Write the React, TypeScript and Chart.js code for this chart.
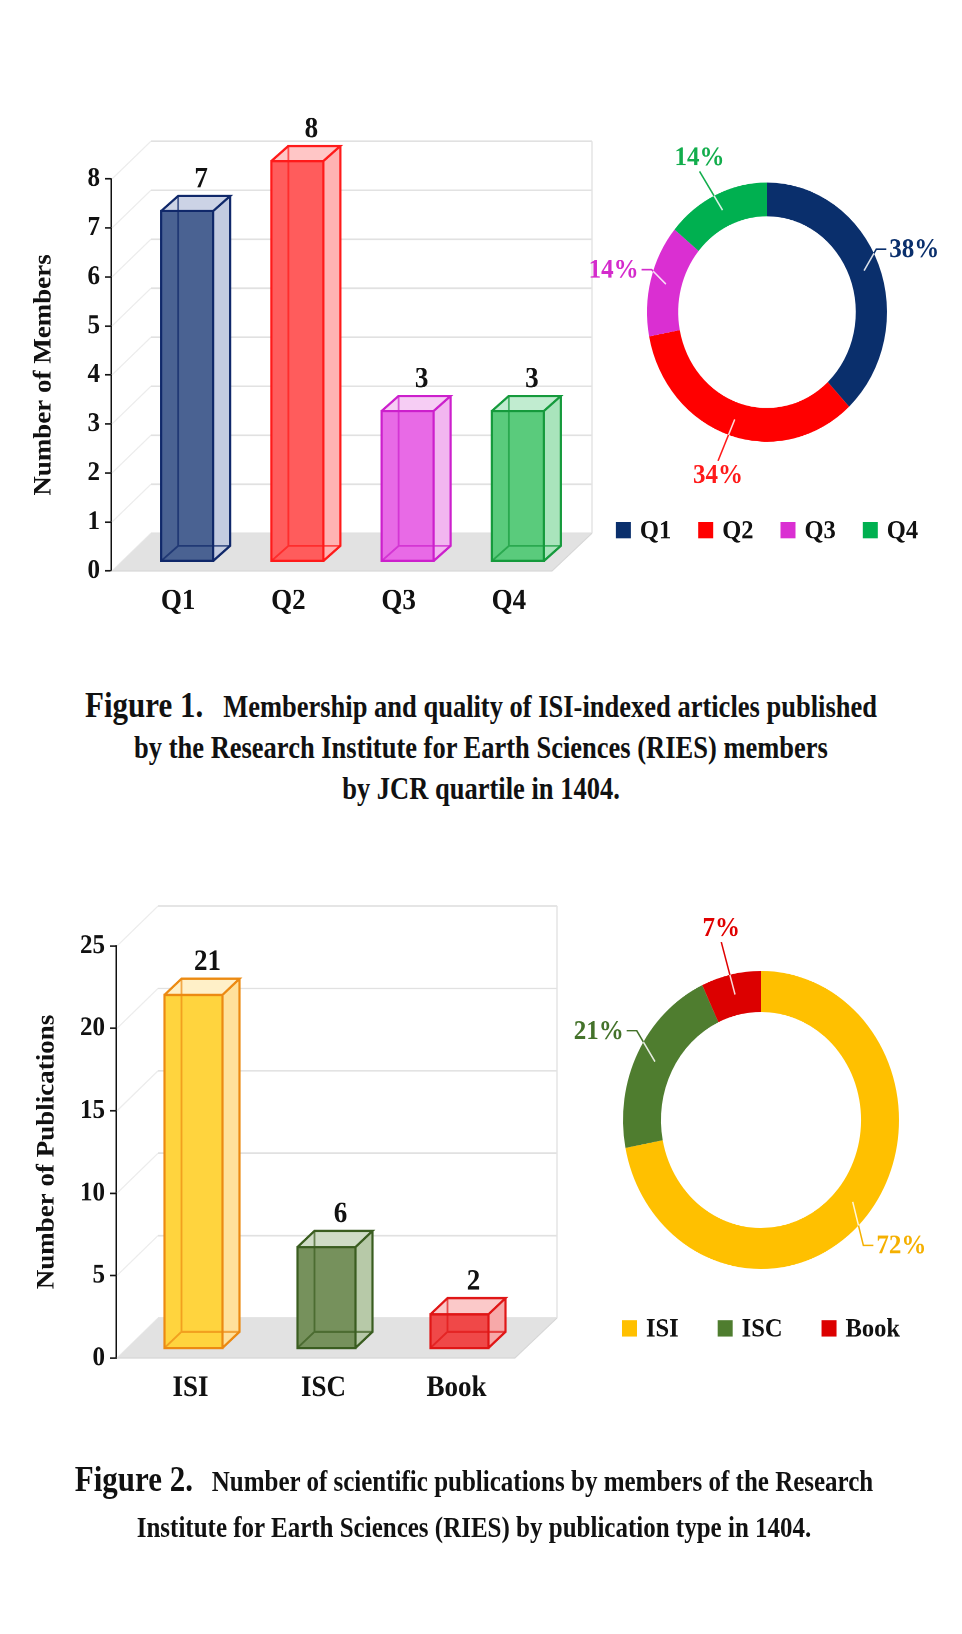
import React, { useEffect, useRef } from "react";
import { Chart, registerables } from "chart.js";

Chart.register(...registerables);

const FONT = '"Liberation Serif", "Times New Roman", serif';
const STRETCH = 1.08;
const BASE_H = 1512;

// ---------- Figure 1 data ----------
const quartiles = ["Q1", "Q2", "Q3", "Q4"];
const memberCounts = [7, 8, 3, 3];
const memberTicks = [0, 1, 2, 3, 4, 5, 6, 7, 8];
const quartileShare = [38, 34, 14, 14];

// ---------- Figure 2 data ----------
const pubTypes = ["ISI", "ISC", "Book"];
const pubCounts = [21, 6, 2];
const pubTicks = [0, 5, 10, 15, 20, 25];
const pubShare = [72, 21, 7];

// ---------- Styles ----------
const quartileFront = ["#4a6292", "#ff5c5c", "#e86ae6", "#5acb7c"];
const quartileSide = ["#c3cbe0", "#ffb3b3", "#f2b6f0", "#a9e4bc"];
const quartileTop = ["#ccd3e6", "#ffc6c6", "#f6cdf4", "#c1ecd0"];
const quartileEdge = ["#10286a", "#ff1a1a", "#cc1fcc", "#159a3c"];
const quartileRing = ["#0a2f6c", "#ff0000", "#da2fd2", "#00b050"];
const quartileLabel = ["#0a2f6c", "#ff1a1a", "#d42bcc", "#12ad4c"];

const pubFront = ["#ffd43e", "#76915c", "#f04848"];
const pubSide = ["#ffe19b", "#b7c9a8", "#f7a9a9"];
const pubTop = ["#fff0c8", "#cfdcc6", "#fbc9c9"];
const pubEdge = ["#ec8a12", "#3a5d20", "#e01616"];
const pubRing = ["#ffc000", "#4f7d2f", "#dc0000"];
const pubLabel = ["#f5b000", "#44722a", "#e00000"];

type Bar3DStyle = {
  wall: [number, number];
  depth: [number, number];
  shift: [number, number];
  barWidth: number;
  heightScale: number;
  front: string[];
  side: string[];
  top: string[];
  edge: string[];
  labelDx: number;
};

function makeBar3D(st: Bar3DStyle) {
  return {
    id: "bar3d",
    beforeDatasetsDraw(chart: any) {
      const { ctx, chartArea: ca, scales } = chart;
      const y = scales.y;
      const [wdx, wdy] = st.wall;
      const y0 = y.getPixelForValue(y.min);
      const yTop = y.getPixelForValue(y.max);
      ctx.save();
      ctx.lineCap = "butt";
      y.ticks.forEach((t: any) => {
        const py = y.getPixelForValue(t.value);
        ctx.strokeStyle = "#ececec";
        ctx.lineWidth = 1.2;
        ctx.beginPath();
        ctx.moveTo(ca.left + 1, py);
        ctx.lineTo(ca.left + wdx, py + wdy);
        ctx.stroke();
        ctx.strokeStyle = "#e1e1e1";
        ctx.lineWidth = 1.5;
        ctx.beginPath();
        ctx.moveTo(ca.left + wdx, py + wdy);
        ctx.lineTo(ca.right + wdx, py + wdy);
        ctx.stroke();
      });
      ctx.strokeStyle = "#e4e4e4";
      ctx.lineWidth = 1.5;
      ctx.beginPath();
      ctx.moveTo(ca.right + wdx, y0 + wdy);
      ctx.lineTo(ca.right + wdx, yTop + wdy);
      ctx.stroke();
      // floor
      ctx.fillStyle = "#e2e2e2";
      ctx.beginPath();
      ctx.moveTo(ca.left + 1, y0);
      ctx.lineTo(ca.right, y0);
      ctx.lineTo(ca.right + wdx, y0 + wdy);
      ctx.lineTo(ca.left + wdx, y0 + wdy);
      ctx.closePath();
      ctx.fill();
      ctx.strokeStyle = "#d6d6d6";
      ctx.lineWidth = 1;
      ctx.beginPath();
      ctx.moveTo(ca.left + 1, y0);
      ctx.lineTo(ca.right, y0);
      ctx.lineTo(ca.right + wdx, y0 + wdy);
      ctx.stroke();
      ctx.restore();
    },
    afterDatasetsDraw(chart: any) {
      const { ctx, scales } = chart;
      const y = scales.y;
      const meta = chart.getDatasetMeta(0);
      const values = chart.data.datasets[0].data as number[];
      const y0 = y.getPixelForValue(0);
      const [dx, dy] = st.depth;
      ctx.save();
      ctx.lineJoin = "miter";
      meta.data.forEach((el: any, i: number) => {
        const v = values[i];
        const cx = el.x + st.shift[0];
        const yb = y0 + st.shift[1];
        const h = (y0 - y.getPixelForValue(v)) * st.heightScale;
        const yt = yb - h;
        const xl = cx - st.barWidth / 2;
        const xr = cx + st.barWidth / 2;
        // side face
        ctx.fillStyle = st.side[i];
        ctx.beginPath();
        ctx.moveTo(xr, yt);
        ctx.lineTo(xr + dx, yt + dy);
        ctx.lineTo(xr + dx, yb + dy);
        ctx.lineTo(xr, yb);
        ctx.closePath();
        ctx.fill();
        // top face
        ctx.fillStyle = st.top[i];
        ctx.beginPath();
        ctx.moveTo(xl, yt);
        ctx.lineTo(xr, yt);
        ctx.lineTo(xr + dx, yt + dy);
        ctx.lineTo(xl + dx, yt + dy);
        ctx.closePath();
        ctx.fill();
        // front face
        ctx.fillStyle = st.front[i];
        ctx.fillRect(xl, yt, xr - xl, yb - yt);
        // hidden edges
        ctx.strokeStyle = st.edge[i];
        ctx.lineWidth = 1.8;
        ctx.globalAlpha = 0.7;
        ctx.beginPath();
        ctx.moveTo(xl + dx, yt + dy);
        ctx.lineTo(xl + dx, yb + dy);
        ctx.lineTo(xr + dx, yb + dy);
        ctx.moveTo(xl, yb);
        ctx.lineTo(xl + dx, yb + dy);
        ctx.stroke();
        ctx.globalAlpha = 1;
        ctx.lineWidth = 2.2;
        ctx.beginPath();
        ctx.rect(xl, yt, xr - xl, yb - yt);
        ctx.moveTo(xl, yt);
        ctx.lineTo(xl + dx, yt + dy);
        ctx.lineTo(xr + dx, yt + dy);
        ctx.lineTo(xr, yt);
        ctx.moveTo(xr + dx, yt + dy);
        ctx.lineTo(xr + dx, yb + dy);
        ctx.lineTo(xr, yb);
        ctx.stroke();
        // value label
        ctx.fillStyle = "#111";
        ctx.font = `bold 27px ${FONT}`;
        ctx.textAlign = "center";
        ctx.textBaseline = "alphabetic";
        ctx.fillText(String(v), cx + st.labelDx, yt + dy - 8);
      });
      ctx.restore();
    },
  };
}

type DonutStyle = {
  labelColors: string[];
  labelRadius: number;
  legendOffset: number;
  legendGap: number;
};

function makeDonutLabels(st: DonutStyle) {
  return {
    id: "donutLabels",
    afterDatasetsDraw(chart: any) {
      const { ctx } = chart;
      const meta = chart.getDatasetMeta(0);
      const ds = chart.data.datasets[0];
      const values = ds.data as number[];
      const colors = ds.backgroundColor as string[];
      const labels = chart.data.labels as string[];
      ctx.save();
      ctx.font = `bold 25px ${FONT}`;
      let cxAll = 0;
      meta.data.forEach((arc: any, i: number) => {
        const p = arc.getProps(["x", "y", "startAngle", "endAngle", "innerRadius", "outerRadius"], true);
        cxAll = p.x;
        const mid = (p.startAngle + p.endAngle) / 2;
        const c = Math.cos(mid);
        const s = Math.sin(mid);
        const rMid = (p.innerRadius + p.outerRadius) / 2;
        const ax = p.x + c * rMid;
        const ay = p.y + s * rMid;
        const lx = p.x + c * p.outerRadius * st.labelRadius;
        const ly = p.y + s * p.outerRadius * st.labelRadius;
        const text = `${values[i]}%`;
        const tw = ctx.measureText(text).width;
        let pts: number[][];
        if (Math.abs(c) > 0.6) {
          const side = Math.sign(c);
          const nearX = lx - side * (tw / 2 + 3);
          pts = [[ax, ay], [nearX - side * 10, ly], [nearX, ly]];
        } else {
          const vs = Math.sign(s);
          pts = [[ax, ay], [lx, ly - vs * 13]];
        }
        const path = () => {
          ctx.beginPath();
          pts.forEach(([px, py], k) => (k ? ctx.lineTo(px, py) : ctx.moveTo(px, py)));
        };
        ctx.save();
        ctx.beginPath();
        ctx.rect(0, 0, chart.width, chart.height);
        ctx.arc(p.x, p.y, p.outerRadius, 0, Math.PI * 2);
        ctx.clip("evenodd");
        path();
        ctx.strokeStyle = st.labelColors[i];
        ctx.lineWidth = 1.5;
        ctx.stroke();
        ctx.restore();
        ctx.save();
        ctx.beginPath();
        ctx.arc(p.x, p.y, p.outerRadius, 0, Math.PI * 2);
        ctx.clip();
        path();
        ctx.strokeStyle = "rgba(255,255,255,0.85)";
        ctx.lineWidth = 1.5;
        ctx.stroke();
        ctx.restore();
        ctx.fillStyle = st.labelColors[i];
        ctx.textAlign = "center";
        ctx.textBaseline = "middle";
        ctx.fillText(text, lx, ly + 1);
      });
      // legend
      ctx.font = `bold 24.5px ${FONT}`;
      const box = 15;
      const gap = 9;
      const widths = labels.map((l) => ctx.measureText(l).width);
      const total =
        widths.reduce((a, w) => a + box + gap + w, 0) + st.legendGap * (labels.length - 1);
      let lx = cxAll - total / 2;
      const ly = chart.chartArea.bottom + st.legendOffset;
      labels.forEach((l, i) => {
        ctx.fillStyle = colors[i];
        ctx.fillRect(lx, ly - box / 2, box, box);
        ctx.fillStyle = "#111";
        ctx.textAlign = "left";
        ctx.textBaseline = "middle";
        ctx.fillText(l, lx + box + gap, ly + 1);
        lx += box + gap + widths[i] + st.legendGap;
      });
      ctx.restore();
    },
  };
}

function barConfig(
  labels: string[],
  values: number[],
  ticks: number[],
  title: string,
  axisWidth: number,
  padding: any,
  titlePad: number,
  labelOffset: number,
  style: Bar3DStyle
): any {
  return {
    type: "bar",
    data: {
      labels,
      datasets: [
        {
          data: values,
          backgroundColor: "rgba(0,0,0,0)",
          borderWidth: 0,
        },
      ],
    },
    options: {
      animation: false,
      responsive: true,
      maintainAspectRatio: false,
      devicePixelRatio: 2,
      events: [],
      layout: { padding },
      plugins: { legend: { display: false }, tooltip: { enabled: false } },
      scales: {
        x: {
          offset: true,
          grid: { display: false, drawTicks: false },
          border: { display: false },
          ticks: {
            font: { family: FONT, size: 27, weight: "bold" },
            color: "#111",
            padding: 12,
            labelOffset,
          },
          afterFit: (s: any) => {
            s.height = 50;
          },
        },
        y: {
          min: ticks[0],
          max: ticks[ticks.length - 1],
          afterBuildTicks: (s: any) => {
            s.ticks = ticks.map((v) => ({ value: v }));
          },
          grid: {
            drawOnChartArea: false,
            drawTicks: true,
            tickLength: 6,
            tickColor: "#111",
            tickWidth: 1.5,
          },
          border: { display: true, color: "#111", width: 1.5 },
          ticks: {
            font: { family: FONT, size: 25, weight: "bold" },
            color: "#111",
            padding: 5,
          },
          title: {
            display: true,
            text: title,
            font: { family: FONT, size: 25, weight: "bold" },
            color: "#111",
            padding: { top: titlePad, bottom: 0 },
          },
          afterFit: (s: any) => {
            s.width = axisWidth;
          },
        },
      },
    },
    plugins: [makeBar3D(style)],
  };
}

function donutConfig(
  labels: string[],
  values: number[],
  colors: string[],
  cutout: string,
  padding: any,
  style: DonutStyle
): any {
  return {
    type: "doughnut",
    data: {
      labels,
      datasets: [
        {
          data: values,
          backgroundColor: colors,
          borderWidth: 0,
          offset: 0,
          hoverOffset: 0,
        },
      ],
    },
    options: {
      animation: false,
      responsive: true,
      maintainAspectRatio: false,
      devicePixelRatio: 2,
      events: [],
      cutout,
      layout: { padding },
      plugins: { legend: { display: false }, tooltip: { enabled: false } },
    },
    plugins: [makeDonutLabels(style)],
  };
}

function ChartBox(props: { left: number; top: number; width: number; height: number; make: () => any }) {
  const ref = useRef<HTMLCanvasElement>(null);
  useEffect(() => {
    const chart = new Chart(ref.current as HTMLCanvasElement, props.make());
    return () => chart.destroy();
  }, []);
  return (
    <div style={{ position: "absolute", left: props.left, top: props.top, width: props.width, height: props.height }}>
      <canvas ref={ref} />
    </div>
  );
}

const captionBase: React.CSSProperties = {
  position: "absolute",
  left: 0,
  textAlign: "center",
  fontFamily: FONT,
  fontWeight: "bold",
  color: "#111",
  whiteSpace: "nowrap",
  transform: "scaleY(1.1)",
  transformOrigin: "50% 0",
};

export default function App() {
  return (
    <div
      style={{
        position: "absolute",
        left: 0,
        top: 0,
        width: 962,
        height: BASE_H,
        background: "#fff",
        overflow: "hidden",
        transform: `scaleY(${STRETCH})`,
        transformOrigin: "0 0",
      }}
    >
      <ChartBox
        left={0}
        top={0}
        width={600}
        height={600}
        make={() =>
          barConfig(
            quartiles,
            memberCounts,
            memberTicks,
            "Number of Members",
            111,
            { top: 165.7, right: 48, bottom: 21.3, left: 0 },
            29,
            12,
            {
              wall: [40, -35],
              depth: [17, -14],
              shift: [21, -9.3],
              barWidth: 52,
              heightScale: 1.02,
              front: quartileFront,
              side: quartileSide,
              top: quartileTop,
              edge: quartileEdge,
              labelDx: 14,
            }
          )
        }
      />
      <ChartBox
        left={560}
        top={100}
        width={402}
        height={460}
        make={() =>
          donutConfig(quartiles, quartileShare, quartileRing, "74%", { top: 69, bottom: 151, left: 30, right: 18 }, {
            labelColors: quartileLabel,
            labelRadius: 1.32,
            legendOffset: 82,
            legendGap: 27,
          })
        }
      />
      <div style={{ ...captionBase, top: 635.2, width: 962, fontSize: 26.5, lineHeight: "34.5px" }}>
        <span style={{ fontSize: 31, lineHeight: 1 }}>Figure 1.</span>
        {"\u00a0\u00a0\u00a0"}Membership and quality of ISI-indexed articles published
        <br />
        by the Research Institute for Earth Sciences (RIES) members
        <br />
        by JCR quartile in 1404.
      </div>
      <ChartBox
        left={0}
        top={790}
        width={600}
        height={570}
        make={() =>
          barConfig(
            pubTypes,
            pubCounts,
            pubTicks,
            "Number of Publications",
            116,
            { top: 85.9, right: 85, bottom: 52.6, left: 0 },
            32,
            8,
            {
              wall: [42, -37],
              depth: [17, -15],
              shift: [11, -9.3],
              barWidth: 58,
              heightScale: 1.02,
              front: pubFront,
              side: pubSide,
              top: pubTop,
              edge: pubEdge,
              labelDx: 14,
            }
          )
        }
      />
      <ChartBox
        left={560}
        top={850}
        width={402}
        height={430}
        make={() =>
          donutConfig(pubTypes, pubShare, pubRing, "72.5%", { top: 49, bottom: 105, left: 20, right: 20 }, {
            labelColors: pubLabel,
            labelRadius: 1.32,
            legendOffset: 55,
            legendGap: 39,
          })
        }
      />
      <div style={{ ...captionBase, top: 1351, width: 948, fontSize: 25, lineHeight: "38.6px" }}>
        <span style={{ fontSize: 31, lineHeight: 1 }}>Figure 2.</span>
        {"\u00a0\u00a0\u00a0"}Number of scientific publications by members of the Research
        <br />
        Institute for Earth Sciences (RIES) by publication type in 1404.
      </div>
    </div>
  );
}
